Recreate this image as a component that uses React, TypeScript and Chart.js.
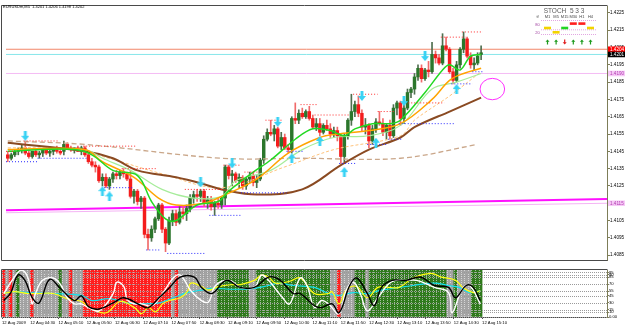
import React, { useEffect, useRef } from "react";
import { Chart, registerables } from "chart.js";

Chart.register(...registerables);

// ---------------- DATA ----------------
const symbolTitle = "EURUSDm,M5  1.4201 1.4206 1.4198 1.4202";

const timeLabels = [
  "12 Aug 2009", "12 Aug 04:30", "12 Aug 05:10", "12 Aug 05:50", "12 Aug 06:30", "12 Aug 07:10",
  "12 Aug 07:50", "12 Aug 08:30", "12 Aug 09:10", "12 Aug 09:50", "12 Aug 10:30", "12 Aug 11:10",
  "12 Aug 11:50", "12 Aug 12:30", "12 Aug 13:10", "12 Aug 13:50", "12 Aug 14:30", "12 Aug 15:10",
];

const priceTicks = [
  1.4085, 1.4095, 1.4105, 1.4115, 1.4125, 1.4135, 1.4145, 1.4155,
  1.4165, 1.4175, 1.4185, 1.4195, 1.4205, 1.4215, 1.4225,
];

const open = [
  1.4143, 1.4141, 1.4143, 1.4145, 1.4146, 1.4147, 1.4144, 1.4142, 1.4145, 1.4143,
  1.4144, 1.4146, 1.4144, 1.4145, 1.4146, 1.4145, 1.4145, 1.4149, 1.4147, 1.4146,
  1.4147, 1.4145, 1.4147, 1.4143, 1.4139, 1.4137, 1.4136, 1.4128, 1.4130, 1.4125,
  1.4129, 1.4132, 1.4131, 1.4133, 1.4132, 1.4129, 1.4119, 1.4122, 1.4116, 1.4118,
  1.4097, 1.4095, 1.4100, 1.4106, 1.4114, 1.4100, 1.4092, 1.4105, 1.4109, 1.4104,
  1.4110, 1.4109, 1.4112, 1.4118, 1.4120, 1.4119, 1.4122, 1.4115, 1.4117, 1.4113,
  1.4115, 1.4114, 1.4118, 1.4136, 1.4131, 1.4132, 1.4128, 1.4130, 1.4125, 1.4129,
  1.4131, 1.4127, 1.4129, 1.4140, 1.4152, 1.4156, 1.4155, 1.4158, 1.4148, 1.4153,
  1.4147, 1.4146, 1.4164, 1.4163, 1.4167, 1.4165, 1.4168, 1.4164, 1.4159, 1.4161,
  1.4156, 1.4160, 1.4158, 1.4155, 1.4157, 1.4154, 1.4142, 1.4154, 1.4163, 1.4168,
  1.4172, 1.4167, 1.4159, 1.4160, 1.4151, 1.4158, 1.4162, 1.4161, 1.4156, 1.4160,
  1.4154, 1.4170, 1.4173, 1.4164, 1.4170, 1.4179, 1.4181, 1.4188, 1.4193, 1.4187,
  1.4192, 1.4191, 1.4201, 1.4199, 1.4196, 1.4206, 1.4204, 1.4191, 1.4186, 1.4195,
  1.4204, 1.4210, 1.4200, 1.4195, 1.4196, 1.4201,
];
const high = [
  1.4145, 1.4144, 1.4146, 1.4147, 1.4149, 1.4151, 1.4146, 1.4145, 1.4146, 1.4145,
  1.4146, 1.4147, 1.4146, 1.4147, 1.4148, 1.4147, 1.4151, 1.4150, 1.4148, 1.4147,
  1.4148, 1.4148, 1.4148, 1.4144, 1.4141, 1.4139, 1.4137, 1.4132, 1.4132, 1.4130,
  1.4133, 1.4134, 1.4134, 1.4135, 1.4133, 1.4134, 1.4123, 1.4123, 1.4119, 1.4119,
  1.4100, 1.4102, 1.4107, 1.4115, 1.4115, 1.4101, 1.4107, 1.4111, 1.4111, 1.4113,
  1.4113, 1.4114, 1.4120, 1.4122, 1.4123, 1.4123, 1.4123, 1.4119, 1.4119, 1.4116,
  1.4118, 1.4119, 1.4137, 1.4137, 1.4134, 1.4133, 1.4132, 1.4131, 1.4130, 1.4133,
  1.4133, 1.4131, 1.4141, 1.4154, 1.4158, 1.4163, 1.4160, 1.4159, 1.4156, 1.4155,
  1.4149, 1.4165, 1.4173, 1.4169, 1.4170, 1.4169, 1.4171, 1.4166, 1.4164, 1.4164,
  1.4161, 1.4163, 1.4161, 1.4159, 1.4159, 1.4155, 1.4155, 1.4164, 1.4178, 1.4174,
  1.4177, 1.4169, 1.4164, 1.4161, 1.4160, 1.4164, 1.4168, 1.4164, 1.4161, 1.4163,
  1.4172, 1.4174, 1.4174, 1.4172, 1.4181, 1.4182, 1.4190, 1.4195, 1.4195, 1.4193,
  1.4197, 1.4208, 1.4203, 1.4201, 1.4213, 1.4211, 1.4205, 1.4193, 1.4197, 1.4205,
  1.4214, 1.4211, 1.4202, 1.4199, 1.4202, 1.4206,
];
const low = [
  1.4139, 1.4140, 1.4142, 1.4143, 1.4144, 1.4143, 1.4141, 1.4141, 1.4142, 1.4141,
  1.4142, 1.4143, 1.4142, 1.4143, 1.4144, 1.4143, 1.4143, 1.4146, 1.4145, 1.4144,
  1.4145, 1.4143, 1.4142, 1.4138, 1.4136, 1.4133, 1.4127, 1.4125, 1.4124, 1.4123,
  1.4127, 1.4129, 1.4129, 1.4130, 1.4128, 1.4118, 1.4115, 1.4114, 1.4112, 1.4095,
  1.4088, 1.4093, 1.4098, 1.4105, 1.4098, 1.4087, 1.4091, 1.4102, 1.4102, 1.4103,
  1.4106, 1.4105, 1.4110, 1.4115, 1.4116, 1.4116, 1.4113, 1.4112, 1.4111, 1.4108,
  1.4112, 1.4112, 1.4114, 1.4129, 1.4125, 1.4127, 1.4124, 1.4123, 1.4123, 1.4127,
  1.4125, 1.4124, 1.4128, 1.4138, 1.4151, 1.4154, 1.4151, 1.4147, 1.4146, 1.4146,
  1.4144, 1.4144, 1.4161, 1.4161, 1.4164, 1.4164, 1.4163, 1.4158, 1.4157, 1.4154,
  1.4155, 1.4157, 1.4153, 1.4153, 1.4151, 1.4138, 1.4139, 1.4152, 1.4160, 1.4165,
  1.4165, 1.4157, 1.4155, 1.4147, 1.4149, 1.4156, 1.4160, 1.4154, 1.4152, 1.4152,
  1.4153, 1.4166, 1.4160, 1.4161, 1.4169, 1.4176, 1.4178, 1.4186, 1.4185, 1.4186,
  1.4188, 1.4190, 1.4196, 1.4195, 1.4195, 1.4203, 1.4190, 1.4184, 1.4185, 1.4193,
  1.4202, 1.4199, 1.4193, 1.4192, 1.4195, 1.4198,
];
const close = [
  1.4141, 1.4143, 1.4145, 1.4146, 1.4147, 1.4144, 1.4142, 1.4145, 1.4143, 1.4144,
  1.4146, 1.4144, 1.4145, 1.4146, 1.4145, 1.4144, 1.4149, 1.4147, 1.4146, 1.4147,
  1.4145, 1.4147, 1.4143, 1.4139, 1.4137, 1.4136, 1.4128, 1.4130, 1.4125, 1.4129,
  1.4132, 1.4131, 1.4133, 1.4132, 1.4129, 1.4119, 1.4122, 1.4116, 1.4118, 1.4097,
  1.4095, 1.4100, 1.4106, 1.4114, 1.4100, 1.4092, 1.4105, 1.4109, 1.4104, 1.4110,
  1.4109, 1.4112, 1.4118, 1.4120, 1.4119, 1.4122, 1.4115, 1.4117, 1.4113, 1.4115,
  1.4114, 1.4118, 1.4136, 1.4131, 1.4132, 1.4128, 1.4130, 1.4125, 1.4129, 1.4131,
  1.4127, 1.4129, 1.4140, 1.4152, 1.4156, 1.4155, 1.4158, 1.4148, 1.4153, 1.4147,
  1.4146, 1.4164, 1.4163, 1.4167, 1.4165, 1.4168, 1.4164, 1.4159, 1.4161, 1.4156,
  1.4160, 1.4158, 1.4155, 1.4157, 1.4154, 1.4142, 1.4154, 1.4163, 1.4168, 1.4172,
  1.4167, 1.4159, 1.4160, 1.4151, 1.4158, 1.4162, 1.4161, 1.4156, 1.4160, 1.4154,
  1.4170, 1.4173, 1.4164, 1.4170, 1.4179, 1.4181, 1.4188, 1.4193, 1.4187, 1.4192,
  1.4191, 1.4201, 1.4199, 1.4196, 1.4206, 1.4204, 1.4191, 1.4186, 1.4195, 1.4204,
  1.4210, 1.4200, 1.4195, 1.4196, 1.4200, 1.4202,
];

// moving averages (bar index, price)
const fastMaX = [0, 10, 19, 24, 30, 37, 41, 45, 48, 54, 60, 63, 70, 75, 82, 87, 92, 96, 99, 104, 109, 112, 119, 124, 126, 129, 132, 135];
const fastMaY = [1.4145, 1.4146, 1.4146, 1.4143, 1.4134, 1.4131, 1.4116, 1.4106, 1.4105, 1.4114, 1.4116, 1.4122, 1.4133, 1.4140, 1.4152, 1.4158, 1.4157, 1.4154, 1.4158, 1.4161, 1.4161, 1.4163, 1.4179, 1.4192, 1.4195, 1.4192, 1.4200, 1.4201];
const paleMaX = [0, 22, 27, 35, 44, 53, 61, 65, 75, 84, 93, 103, 112, 121, 128, 135];
const paleMaY = [1.4146, 1.4146, 1.4141, 1.4134, 1.4123, 1.4118, 1.4119, 1.4128, 1.4134, 1.4146, 1.4153, 1.4154, 1.4160, 1.4181, 1.4185, 1.4190];
const orangeMaX = [0, 22, 27, 36, 43, 48, 56, 61, 71, 80, 89, 94, 103, 112, 121, 126, 130, 135];
const orangeMaY = [1.4146, 1.4146, 1.4139, 1.4130, 1.4118, 1.4114, 1.4115, 1.4119, 1.4129, 1.4144, 1.4153, 1.4155, 1.4157, 1.4161, 1.4175, 1.4186, 1.4190, 1.4193];
const lightOrangeMaX = [0, 15, 27, 44, 61, 79, 93, 112, 116, 126, 135];
const lightOrangeMaY = [1.4147, 1.4147, 1.4142, 1.4132, 1.4124, 1.4136, 1.4146, 1.4154, 1.4163, 1.4177, 1.4191];
const brownMaX = [0, 22, 30, 37, 48, 56, 61, 71, 84, 95, 103, 112, 116, 126, 135];
const brownMaY = [1.4150, 1.4145, 1.4141, 1.4134, 1.4130, 1.4126, 1.4123, 1.4120, 1.4123, 1.4137, 1.4146, 1.4153, 1.4159, 1.4168, 1.4176];
const tanMaX = [0, 22, 61, 84, 112, 134];
const tanMaY = [1.4151, 1.4149, 1.4141, 1.4141, 1.4141, 1.4149];

// fractal levels (dotted)
const resStart = [0, 5, 22, 33, 51, 62, 68, 74, 84, 88, 99, 106, 113, 124, 130];
const resEnd = [1, 14, 36, 42, 61, 66, 72, 78, 88, 97, 105, 110, 124, 130, 135];
const resPrice = [1.4145, 1.4151, 1.4148, 1.4135, 1.4123, 1.4137, 1.4133, 1.4163, 1.4172, 1.4166, 1.4178, 1.4168, 1.4173, 1.4211, 1.4214];
const supStart = [0, 9, 28, 40, 46, 58, 67, 80, 95, 103, 109, 112, 127, 133];
const supEnd = [8, 22, 35, 43, 56, 66, 79, 84, 99, 108, 112, 127, 132, 135];
const supPrice = [1.4139, 1.4141, 1.4124, 1.4088, 1.4086, 1.4108, 1.4121, 1.4145, 1.4138, 1.4149, 1.4152, 1.4161, 1.4184, 1.4191];

// signal arrows
const downArrowBar = [5, 55, 64, 77, 101, 113, 119];
const downArrowPrice = [1.4154, 1.4127, 1.4138, 1.4162, 1.4177, 1.4174, 1.4200];
const upArrowBar = [27, 29, 81, 89, 96, 105, 128];
const upArrowPrice = [1.4122, 1.4119, 1.4141, 1.4151, 1.4133, 1.4150, 1.4181];

// horizontal / trend lines
const askPrice = 1.4204;
const bidPrice = 1.4201;
const upperLevel = 1.4190;
const magentaTrend = [1.4111, 1.41175];
const pinkTrend = [1.41095, 1.4115];
const circleBar = 138.2;
const circlePrice = 1.4181;

// STOCH multi-timeframe box
const tfNames = ["M1", "M5", "M15", "M30", "H1", "H4"];
const tfLevel = [1, 2, 1, 0, 0, 1];
const tfState = ["y", "y", "g", "r", "r", "y"];
const tfUp = [true, true, false, true, true, true];

// stochastic sub window
const zoneRuns: [string, number][] = [
  ["r", 1], ["n", 1], ["r", 1], ["n", 1], ["g", 1], ["n", 3], ["r", 1], ["n", 7], ["g", 1], ["n", 2],
  ["r", 1], ["n", 3], ["r", 25], ["n", 1], ["r", 1], ["n", 11], ["g", 9], ["n", 2], ["g", 21], ["n", 2],
  ["r", 1], ["n", 4], ["g", 3], ["n", 1], ["g", 22], ["n", 2], ["g", 1], ["n", 4], ["g", 3],
];
const blackX = [0, 2, 4, 6, 8, 10, 13, 16, 20, 22, 24, 27, 31, 34, 39, 41, 44, 47, 50, 54, 56, 59, 63, 67, 71, 75, 78, 82, 84, 88, 90, 93, 95, 98, 100, 103, 105, 107, 110, 114, 118, 122, 126, 128, 131, 133, 135];
const blackY = [35, 52, 89, 78, 42, 30, 80, 61, 35, 45, 22, 17, 30, 41, 24, 20, 41, 63, 85, 85, 63, 50, 78, 63, 63, 85, 80, 50, 50, 24, 20, 28, 9, 67, 83, 50, 24, 63, 78, 78, 85, 67, 63, 41, 67, 63, 35];
const whiteX = [0, 3, 5, 7, 8, 9, 11, 14, 16, 18, 20, 22, 24, 27, 31, 32, 34, 35, 37, 39, 42, 45, 48, 50, 53, 56, 58, 60, 64, 67, 71, 73, 75, 79, 81, 84, 86, 88, 90, 92, 95, 97, 99, 101, 103, 106, 109, 111, 114, 117, 122, 126, 127, 130, 132, 135];
const whiteY = [50, 85, 100, 80, 28, 50, 78, 83, 70, 41, 28, 28, 20, 13, 50, 74, 65, 37, 28, 28, 24, 50, 83, 89, 56, 35, 32, 67, 78, 63, 63, 89, 78, 41, 28, 83, 65, 20, 35, 28, 7, 57, 74, 50, 13, 41, 70, 78, 78, 78, 63, 52, 9, 61, 67, 28];
const yellowX = [0, 3, 7, 10, 14, 18, 22, 25, 29, 33, 37, 39, 41, 43, 45, 47, 50, 52, 53, 56, 58, 61, 65, 67, 71, 73, 75, 77, 81, 84, 88, 92, 93, 95, 97, 100, 103, 106, 109, 112, 116, 121, 124, 128, 130, 133, 135];
const yellowY = [50, 54, 50, 50, 50, 39, 33, 17, 9, 33, 20, 7, 20, 11, 28, 35, 41, 54, 72, 65, 57, 65, 69, 69, 78, 89, 85, 72, 76, 83, 50, 50, 54, 28, 57, 65, 41, 63, 63, 63, 83, 93, 85, 78, 63, 52, 56];
const cyanX = [0, 3, 7, 14, 22, 25, 30, 35, 39, 44, 48, 52, 56, 59, 65, 71, 75, 78, 82, 88, 92, 95, 99, 103, 107, 112, 116, 122, 126, 129, 132, 135];
const cyanY = [50, 54, 52, 50, 46, 35, 39, 30, 28, 30, 41, 52, 57, 61, 59, 61, 67, 72, 67, 63, 50, 46, 52, 50, 57, 63, 67, 72, 67, 63, 52, 56];
const stochLevels = [95, 90, 85, 70, 55, 45, 30, 15, 10, 0];
const stochLevelLabels = ["95", "90", "85", "70", "55", "45", "30", "15", "10", "0.00"];

// ---------------- STYLE ----------------
const X_MIN = -0.5;
const X_MAX = 170.9;
const Y_MIN = 1.40822;
const Y_MAX = 1.4229;
const FONT = "Liberation Sans";
const AXIS_COLOR = "#7d7d58";

function pts(xs: number[], ys: number[]) {
  return xs.map((x, i) => ({ x, y: ys[i] }));
}

function segs(s: number[], e: number[], p: number[]) {
  const out: any[] = [];
  s.forEach((st, i) => {
    out.push({ x: st - 0.5, y: p[i] }, { x: e[i] + 0.5, y: p[i] }, { x: e[i] + 0.5, y: null });
  });
  return out;
}

function makeArrow(up: boolean, color: string, w: number, h: number) {
  const c = document.createElement("canvas");
  c.width = w;
  c.height = h;
  const g = c.getContext("2d")!;
  g.fillStyle = color;
  const hw = w / 2;
  const head = h * 0.5;
  const sw = w * 0.36;
  g.beginPath();
  if (up) {
    g.moveTo(hw, 0); g.lineTo(w, head); g.lineTo(hw + sw / 2, head); g.lineTo(hw + sw / 2, h);
    g.lineTo(hw - sw / 2, h); g.lineTo(hw - sw / 2, head); g.lineTo(0, head);
  } else {
    g.moveTo(hw, h); g.lineTo(w, h - head); g.lineTo(hw + sw / 2, h - head); g.lineTo(hw + sw / 2, 0);
    g.lineTo(hw - sw / 2, 0); g.lineTo(hw - sw / 2, h - head); g.lineTo(0, h - head);
  }
  g.closePath();
  g.fill();
  return c;
}

function maLine(xs: number[], ys: number[], color: string, width: number, order: number, dash: number[] = []) {
  return {
    type: "line",
    data: pts(xs, ys),
    borderColor: color,
    borderWidth: width,
    borderDash: dash,
    pointRadius: 0,
    tension: 0.35,
    fill: false,
    order,
  };
}

function flatLine(vals: number[], color: string, width: number, order: number) {
  return {
    type: "line",
    data: [{ x: X_MIN, y: vals[0] }, { x: X_MAX, y: vals[1] }],
    borderColor: color,
    borderWidth: width,
    pointRadius: 0,
    tension: 0,
    order,
  };
}

const mainDecor = {
  id: "mainDecor",
  afterDraw(chart: any) {
    const { ctx, chartArea: a, scales } = chart;
    const ys = scales.y;
    const xs = scales.x;
    ctx.save();
    // frame
    ctx.strokeStyle = "#4a4a4a";
    ctx.lineWidth = 1;
    ctx.beginPath();
    ctx.moveTo(a.right + 0.5, a.top - 0.5);
    ctx.lineTo(1.5, a.top - 0.5);
    ctx.lineTo(1.5, a.bottom + 0.5);
    ctx.lineTo(a.right + 0.5, a.bottom + 0.5);
    ctx.stroke();

    // title
    ctx.fillStyle = "#000";
    ctx.font = `4px "${FONT}"`;
    ctx.textBaseline = "top";
    ctx.textAlign = "left";
    ctx.fillText(symbolTitle, 3, 4.5);

    // ellipse
    ctx.strokeStyle = "#ff30ff";
    ctx.lineWidth = 1;
    ctx.beginPath();
    ctx.ellipse(xs.getPixelForValue(circleBar), ys.getPixelForValue(circlePrice), 12.3, 10.7, 0, 0, Math.PI * 2);
    ctx.stroke();

    // STOCH box
    const colX = (k: number) => 547.5 + 8.6 * k;
    ctx.textAlign = "center";
    ctx.textBaseline = "middle";
    ctx.fillStyle = "#5a5a5a";
    ctx.font = `6.5px "${FONT}"`;
    ctx.fillText("STOCH  5 3 3", 564, 11.5);
    ctx.font = `4px "${FONT}"`;
    ctx.fillStyle = "#444";
    ctx.fillText("tf", 537.5, 17);
    tfNames.forEach((n, k) => ctx.fillText(n, colX(k), 17));
    ctx.strokeStyle = "#e2a6e2";
    ctx.setLineDash([1, 1]);
    [20.5, 29.8, 34.5].forEach((yy) => {
      ctx.beginPath();
      ctx.moveTo(541, yy);
      ctx.lineTo(596, yy);
      ctx.stroke();
    });
    ctx.setLineDash([]);
    ctx.fillStyle = "#a040a0";
    ctx.fillText("80", 537.5, 25);
    ctx.fillText("20", 537.5, 33);
    const rowY = [22.3, 26.7, 31];
    const stateColor: Record<string, string> = { y: "#f2d400", g: "#22d622", r: "#ff1e1e" };
    tfLevel.forEach((lv, k) => {
      ctx.fillStyle = stateColor[tfState[k]];
      ctx.fillRect(colX(k) - 3.5, rowY[lv], 7, 2.6);
    });
    tfUp.forEach((up, k) => {
      const cx = colX(k);
      ctx.fillStyle = up ? "#1c9a1c" : "#e01c1c";
      ctx.beginPath();
      if (up) {
        ctx.moveTo(cx, 39.5); ctx.lineTo(cx + 2, 41.8); ctx.lineTo(cx + 0.6, 41.8); ctx.lineTo(cx + 0.6, 44.5);
        ctx.lineTo(cx - 0.6, 44.5); ctx.lineTo(cx - 0.6, 41.8); ctx.lineTo(cx - 2, 41.8);
      } else {
        ctx.moveTo(cx, 44.5); ctx.lineTo(cx + 2, 42.2); ctx.lineTo(cx + 0.6, 42.2); ctx.lineTo(cx + 0.6, 39.5);
        ctx.lineTo(cx - 0.6, 39.5); ctx.lineTo(cx - 0.6, 42.2); ctx.lineTo(cx - 2, 42.2);
      }
      ctx.closePath();
      ctx.fill();
    });

    // price tags on the axis
    const tags = [
      { v: upperLevel, bg: "#f6c9f6", fg: "#b13cb1" },
      { v: pinkTrend[1], bg: "#f6c9f6", fg: "#b13cb1" },
      { v: askPrice, bg: "#ff0000", fg: "#ffffff" },
      { v: bidPrice, bg: "#000000", fg: "#ffffff" },
    ];
    ctx.font = `4.6px "${FONT}"`;
    ctx.textAlign = "left";
    tags.forEach((t) => {
      const yy = ys.getPixelForValue(t.v);
      ctx.fillStyle = t.bg;
      ctx.fillRect(a.right + 1, yy - 2.8, 625 - a.right - 1, 5.6);
      ctx.fillStyle = t.fg;
      ctx.fillText(t.v.toFixed(4), a.right + 3, yy + 0.3);
    });
    ctx.restore();
  },
};

const subDecor = {
  id: "subDecor",
  afterDatasetDraw(chart: any, args: any) {
    if (args.index !== 0) return;
    const { ctx, chartArea: a, scales } = chart;
    const xs = scales.x;
    const ys = scales.y;
    ctx.save();
    ctx.lineWidth = 1;
    ctx.setLineDash([1, 1]);
    ctx.strokeStyle = "rgba(255,255,255,0.55)";
    for (let i = 0; i < open.length; i++) {
      const px = Math.round(xs.getPixelForValue(i - 0.5)) + 0.5;
      ctx.beginPath();
      ctx.moveTo(px, a.top);
      ctx.lineTo(px, a.bottom);
      ctx.stroke();
    }
    ctx.strokeStyle = "#9a9a9a";
    stochLevels.forEach((lv) => {
      const py = Math.round(ys.getPixelForValue(lv)) + 0.5;
      ctx.beginPath();
      ctx.moveTo(a.left, py);
      ctx.lineTo(a.right, py);
      ctx.stroke();
    });
    ctx.restore();
  },
  afterDraw(chart: any) {
    const { ctx, chartArea: a } = chart;
    ctx.save();
    ctx.strokeStyle = "#4a4a4a";
    ctx.lineWidth = 1;
    ctx.beginPath();
    ctx.moveTo(a.right + 0.5, a.top - 0.5);
    ctx.lineTo(1.5, a.top - 0.5);
    ctx.lineTo(1.5, a.bottom + 0.5);
    ctx.stroke();
    ctx.restore();
  },
};

export default function App() {
  const mainRef = useRef<HTMLCanvasElement>(null);
  const subRef = useRef<HTMLCanvasElement>(null);

  useEffect(() => {
    const n = open.length;
    const isUp = open.map((o, i) => close[i] >= o);
    const bodies = open.map((o, i) => ({ x: i, y: [o, close[i]] }));
    const wicks = open.map((_, i) => ({ x: i, y: [low[i], high[i]] }));
    const arrowColor = "#38d2f4";
    const upImg = makeArrow(true, arrowColor, 8, 10);
    const downImg = makeArrow(false, arrowColor, 8, 10);

    const main = new Chart(mainRef.current!, {
      type: "bar",
      data: {
        datasets: [
          flatLine(magentaTrend, "#ff10ff", 2, 20),
          flatLine(pinkTrend, "#f4b4f4", 1, 20),
          flatLine([upperLevel, upperLevel], "#f4bcf4", 1, 20),
          flatLine([askPrice, askPrice], "#f2866a", 1, 20),
          flatLine([bidPrice, bidPrice], "#86e6ea", 1, 20),
          {
            type: "bar",
            data: wicks,
            backgroundColor: isUp.map((u) => (u ? "#4f6f4f" : "#f06a6a")),
            barThickness: 1,
            grouped: false,
            order: 12,
          },
          {
            type: "bar",
            data: bodies,
            backgroundColor: isUp.map((u) => (u ? "#2b762b" : "#f41c1c")),
            barThickness: 2.8,
            grouped: false,
            order: 11,
          },
          maLine(tanMaX, tanMaY, "#caa78a", 1.3, 9, [5, 3]),
          maLine(lightOrangeMaX, lightOrangeMaY, "#ffc27a", 1, 8, [3, 2]),
          maLine(brownMaX, brownMaY, "#8a4a22", 2, 7),
          maLine(paleMaX, paleMaY, "#a6ec9a", 1.2, 6),
          maLine(orangeMaX, orangeMaY, "#ffa400", 1.5, 5),
          maLine(fastMaX, fastMaY, "#22d822", 1.5, 4),
          {
            type: "line",
            data: segs(resStart, resEnd, resPrice),
            borderColor: "#ff2a2a",
            borderWidth: 1,
            borderDash: [1, 2],
            pointRadius: 0,
            tension: 0,
            spanGaps: false,
            order: 3,
          },
          {
            type: "line",
            data: segs(supStart, supEnd, supPrice),
            borderColor: "#2a2aff",
            borderWidth: 1,
            borderDash: [1, 2],
            pointRadius: 0,
            tension: 0,
            spanGaps: false,
            order: 3,
          },
          {
            type: "line",
            data: pts(upArrowBar, upArrowPrice),
            showLine: false,
            pointStyle: upImg,
            pointRadius: 5,
            order: 1,
          },
          {
            type: "line",
            data: pts(downArrowBar, downArrowPrice),
            showLine: false,
            pointStyle: downImg,
            pointRadius: 5,
            order: 1,
          },
        ] as any,
      },
      options: {
        responsive: false,
        animation: false,
        devicePixelRatio: 1,
        events: [],
        layout: { padding: { left: 2, top: 3, right: 0, bottom: 3 } },
        plugins: { legend: { display: false }, tooltip: { enabled: false } },
        scales: {
          x: {
            type: "linear",
            display: false,
            min: X_MIN,
            max: X_MAX,
            offset: false,
          },
          y: {
            type: "linear",
            position: "right",
            min: Y_MIN,
            max: Y_MAX,
            afterFit: (s: any) => {
              s.width = 18;
            },
            afterBuildTicks: (s: any) => {
              s.ticks = priceTicks.map((v) => ({ value: v }));
            },
            ticks: {
              autoSkip: false,
              padding: 0,
              color: "#000",
              font: { family: FONT, size: 4.6 },
              callback: (v: any) => Number(v).toFixed(4),
            },
            grid: { drawOnChartArea: false, drawTicks: true, tickLength: 3, color: AXIS_COLOR },
            border: { display: true, color: AXIS_COLOR },
          },
        },
      } as any,
      plugins: [mainDecor],
    });

    const zoneColor: Record<string, string> = { r: "#ff1f1f", n: "#a4a4a4", g: "#2f7a1c" };
    const zones: string[] = [];
    zoneRuns.forEach(([c, k]) => {
      for (let j = 0; j < k; j++) zones.push(c);
    });

    const sub = new Chart(subRef.current!, {
      type: "bar",
      data: {
        datasets: [
          {
            type: "bar",
            data: zones.slice(0, n).map((_, i) => ({ x: i, y: [0, 100] })),
            backgroundColor: zones.slice(0, n).map((c) => zoneColor[c]),
            barPercentage: 1,
            categoryPercentage: 1,
            grouped: false,
            order: 10,
          },
          { type: "line", data: pts(cyanX, cyanY), borderColor: "#12e2ee", borderWidth: 1.2, pointRadius: 0, tension: 0.4, order: 4 },
          { type: "line", data: pts(yellowX, yellowY), borderColor: "#ffff10", borderWidth: 1.2, pointRadius: 0, tension: 0.4, order: 3 },
          { type: "line", data: pts(whiteX, whiteY), borderColor: "#ffffff", borderWidth: 1.4, pointRadius: 0, tension: 0.4, order: 2 },
          { type: "line", data: pts(blackX, blackY), borderColor: "#000000", borderWidth: 1.4, pointRadius: 0, tension: 0.4, order: 1 },
        ] as any,
      },
      options: {
        responsive: false,
        animation: false,
        devicePixelRatio: 1,
        events: [],
        layout: { padding: { left: 2, top: 4, right: 0, bottom: 0 } },
        plugins: { legend: { display: false }, tooltip: { enabled: false } },
        scales: {
          x: {
            type: "linear",
            position: "bottom",
            min: X_MIN,
            max: X_MAX,
            offset: false,
            afterFit: (s: any) => {
              s.height = 10;
            },
            afterBuildTicks: (s: any) => {
              s.ticks = timeLabels.map((_, k) => ({ value: 8 * k - 0.5 }));
            },
            ticks: {
              autoSkip: false,
              maxRotation: 0,
              minRotation: 0,
              align: "start",
              padding: 1,
              color: "#000",
              font: { family: FONT, size: 4.2 },
              callback: (_v: any, idx: number) => timeLabels[idx],
            },
            grid: { drawOnChartArea: false, drawTicks: true, tickLength: 2, color: "#555", offset: false },
            border: { display: true, color: "#4a4a4a" },
          },
          y: {
            type: "linear",
            position: "right",
            min: 0,
            max: 100,
            afterFit: (s: any) => {
              s.width = 18;
            },
            afterBuildTicks: (s: any) => {
              s.ticks = stochLevels.map((v) => ({ value: v }));
            },
            ticks: {
              autoSkip: false,
              padding: 0,
              color: "#000",
              font: { family: FONT, size: 4.2 },
              callback: (_v: any, idx: number) => stochLevelLabels[idx],
            },
            grid: { drawOnChartArea: false, drawTicks: true, tickLength: 2, color: AXIS_COLOR },
            border: { display: true, color: AXIS_COLOR },
          },
        },
      } as any,
      plugins: [subDecor],
    });

    return () => {
      main.destroy();
      sub.destroy();
    };
  }, []);

  return (
    <div style={{ position: "absolute", left: 0, top: 0, width: 625, height: 327, background: "#fff", overflow: "hidden" }}>
      <canvas ref={mainRef} width={625} height={266} style={{ position: "absolute", left: 0, top: 0, width: 625, height: 266 }} />
      <canvas ref={subRef} width={625} height={61} style={{ position: "absolute", left: 0, top: 266, width: 625, height: 61 }} />
    </div>
  );
}
